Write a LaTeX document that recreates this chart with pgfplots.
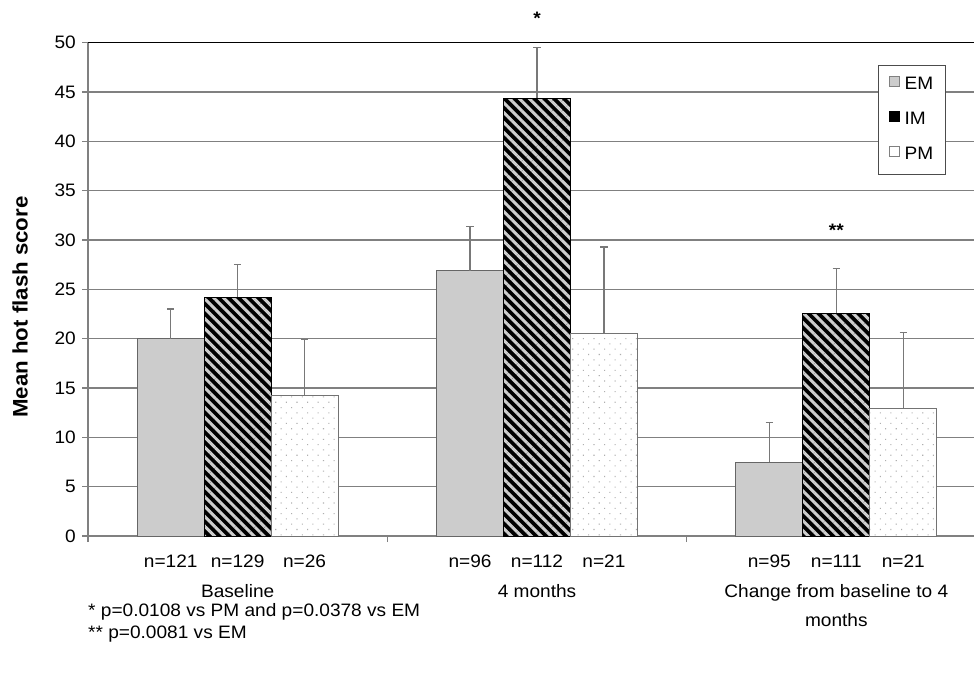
\documentclass[border=0pt]{standalone}
\usepackage{fontspec}
\setmainfont{Liberation Sans}[FakeStretch=1.06]
\usepackage{pgfplots}
\pgfplotsset{compat=1.18}
\usetikzlibrary{patterns.meta}
\definecolor{emfill}{RGB}{204,204,204}
\definecolor{gridc}{RGB}{128,128,128}
\definecolor{errc}{RGB}{120,120,120}
\definecolor{stripec}{RGB}{205,205,205}
\definecolor{dotc}{RGB}{175,175,175}
\begin{document}
\fontsize{18}{21}\selectfont
\begin{tikzpicture}
\useasboundingbox (0,0) rectangle (974pt,678pt);
\begin{axis}[
  at={(88pt,142pt)}, anchor=south west,
  scale only axis, width=886pt, height=493.3pt,
  xmin=-0.5, xmax=2.46, ymin=0, ymax=50,
  ybar=0pt, bar width=0.2237,
  axis x line*=bottom, axis y line*=left,
  axis line style={gridc, line width=1.2pt},
  xtick={-0.5,0.5,1.5}, xticklabels={},
  ytick={0,5,...,50},
  ymajorgrids, major grid style={gridc, line width=1.2pt},
  tick style={gridc, line width=1.2pt},
  major tick length=6pt, tick align=outside,
  /pgf/number format/assume math mode=true,
  yticklabel style={font=\fontsize{18}{21}\selectfont},
  extra x ticks={0,1,2},
  extra x tick labels={Baseline,4 months,{Change from baseline to 4\\months}},
  extra x tick style={grid=none, major tick length=0pt,
    tick label style={font=\fontsize{18}{29}\selectfont, align=center, yshift=-42pt}},
  extra y ticks={50}, extra y tick labels={},
  extra y tick style={grid=major, major grid style={black, line width=1.2pt}},
  every axis y label/.style={at={(axis description cs:-0.0767,0.464)}, rotate=90, anchor=center},
  ylabel={\bfseries\fontsize{21}{24}\selectfont Mean hot flash score},
  clip=false,
  legend style={at={(0.968,0.955)}, anchor=north east, draw=black!70, line width=1pt,
    font=\fontsize{18}{21}\selectfont, row sep=16pt, inner sep=10pt,
    /tikz/every odd column/.append style={column sep=3pt}},
  legend cell align=left,
]
\addplot[fill=emfill, draw=black!60, line width=1pt, bar shift=-0.2237,
  legend image code/.code={\draw[fill=emfill, draw=black!50, line width=0.8pt] (0pt,-1pt) rectangle (10pt,9pt);},
  error bars/.cd, y dir=plus, y explicit,
  error bar style={errc, line width=1.2pt},
  error mark options={rotate=90, errc, mark size=3.7pt, line width=1.2pt}]
  coordinates {(0,20.0) +- (0,3.0) (1,26.9) +- (0,4.5) (2,7.5) +- (0,4.0)};
\addlegendentry{EM}
\addplot[fill=black, draw=black, line width=1pt, bar shift=0,
  legend image code/.code={\draw[fill=black, draw=black, line width=0.8pt] (0pt,-1pt) rectangle (10pt,9pt);},
  error bars/.cd, y dir=plus, y explicit,
  error bar style={errc, line width=1.2pt},
  error mark options={rotate=90, errc, mark size=3.7pt, line width=1.2pt}]
  coordinates {(0,24.2) +- (0,3.3) (1,44.3) +- (0,5.2) (2,22.6) +- (0,4.5)};
\addlegendentry{IM}
\addplot[forget plot, draw=black, line width=1pt, bar shift=0,
  pattern={Lines[angle=-45, distance=7pt, line width=3pt]}, pattern color=stripec]
  coordinates {(0,24.2) (1,44.3) (2,22.6)};
\addplot[fill=white, draw=black!55, line width=1pt, bar shift=0.2237,
  legend image code/.code={\draw[fill=white, draw=black!50, line width=0.8pt] (0pt,-1pt) rectangle (10pt,9pt);},
  error bars/.cd, y dir=plus, y explicit,
  error bar style={errc, line width=1.2pt},
  error mark options={rotate=90, errc, mark size=3.7pt, line width=1.2pt}]
  coordinates {(0,14.2) +- (0,5.7) (1,20.5) +- (0,8.8) (2,12.9) +- (0,7.7)};
\addlegendentry{PM}
\addplot[forget plot, draw=black!55, line width=1pt, bar shift=0.2237,
  pattern={Dots[distance=7.5pt, radius=0.75pt, angle=45]}, pattern color=dotc]
  coordinates {(0,14.2) (1,20.5) (2,12.9)};
% n labels
\node[anchor=base, yshift=-31pt] at (axis cs:-0.2237,0) {n=121};
\node[anchor=base, yshift=-31pt] at (axis cs:0,0) {n=129};
\node[anchor=base, yshift=-31pt] at (axis cs:0.2237,0) {n=26};
\node[anchor=base, yshift=-31pt] at (axis cs:0.7763,0) {n=96};
\node[anchor=base, yshift=-31pt] at (axis cs:1,0) {n=112};
\node[anchor=base, yshift=-31pt] at (axis cs:1.2237,0) {n=21};
\node[anchor=base, yshift=-31pt] at (axis cs:1.7763,0) {n=95};
\node[anchor=base, yshift=-31pt] at (axis cs:2,0) {n=111};
\node[anchor=base, yshift=-31pt] at (axis cs:2.2237,0) {n=21};
% significance marks
\node[anchor=base, font=\bfseries\fontsize{18}{21}\selectfont] at (axis cs:1,51.8) {*};
\node[anchor=base, font=\bfseries\fontsize{18}{21}\selectfont] at (axis cs:2,30.4) {**};
\end{axis}
\node[anchor=base west, inner sep=0pt] at (88pt,62pt) {* p=0.0108 vs PM and p=0.0378 vs EM};
\node[anchor=base west, inner sep=0pt] at (88pt,40pt) {** p=0.0081 vs EM};
\end{tikzpicture}
\end{document}
